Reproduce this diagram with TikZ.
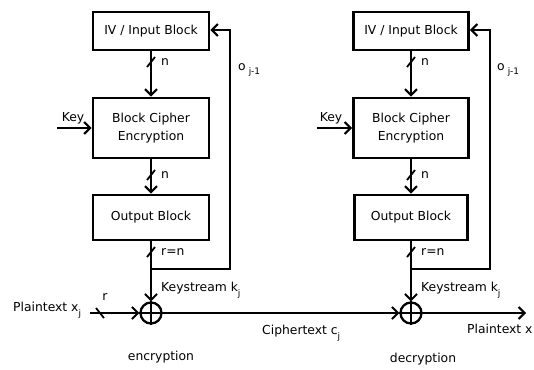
\documentclass[tikz,border=0pt]{standalone}
\usepackage{fontspec}
\setmainfont{DejaVu Sans}
\usetikzlibrary{arrows.meta}
\newcommand{\lblfont}{\fontsize{12.4}{18}\selectfont}
\newcommand{\subfont}{\fontsize{9}{9}\selectfont}
\newcommand{\lowsub}[1]{\raisebox{-4.5pt}{\subfont #1}}
\begin{document}
\begin{tikzpicture}[x=1bp,y=-1bp,
  blk/.style={draw, line width=2.9bp, minimum width=116bp, inner sep=0pt,
              align=center, font=\lblfont},
  wire/.style={line width=2bp},
  flow/.style={wire, -{Straight Barb[length=6bp,width=12bp,line width=2bp]}},
  xorop/.style={circle, draw, line width=2.3bp, minimum size=21bp, inner sep=0pt},
  lbl/.style={font=\lblfont, inner sep=0pt},
  bitw/.style={line width=1.8bp}]
\useasboundingbox (0,0) rectangle (534,369);

% ---------- encryption side ----------
\node[blk, minimum height=38bp] (iv1) at (151,31) {IV / Input Block};
\node[blk, minimum height=60bp] (bc1) at (151,128) {Block Cipher\\Encryption};
\node[blk, minimum height=45bp] (ob1) at (151,217.5) {Output Block};
\node[xorop] (x1) at (151,313) {};
\draw[line width=2.3bp] (x1.north) -- (x1.south) (x1.west) -- (x1.east);

\draw[flow] (iv1) -- (bc1);
\draw[flow] (bc1) -- (ob1);
\draw[flow] (ob1) -- (x1);
\coordinate (j1) at (151,269);
\coordinate (k1) at (57,128);
\coordinate (p1) at (90,313);
\draw[flow] (j1) -| (230,30) -- (iv1.east |- 0,30);
\draw[flow] (k1) -- (bc1.west |- k1);
\draw[flow] (p1) -- (x1);

% bus-width ticks
\draw[bitw] (147,67) -- (155,57);
\draw[bitw] (147,180) -- (155,170);
\draw[bitw] (147,257) -- (155,247);
\draw[bitw] (96,308) -- (104,318);

\node[lbl, anchor=west] at (161,62) {n};
\node[lbl, anchor=west] at (161,175) {n};
\node[lbl, anchor=west] at (161,252) {r=n};
\node[lbl] at (105,297) {r};
\node[lbl] at (73,118) {Key};
\node[lbl, anchor=west] at (238,70) {o\hspace{3pt}\lowsub{j-1}};
\node[lbl, anchor=west] at (161,290) {Keystream k\lowsub{j}};
\node[lbl, anchor=west] at (13,310) {Plaintext x\lowsub{j}};
\node[lbl] at (161,357) {encryption};

% ---------- decryption side ----------
\node[blk, minimum height=38bp, minimum width=115bp] (iv2) at (411,31) {IV / Input Block};
\node[blk, minimum height=60bp, minimum width=115bp] (bc2) at (411,128) {Block Cipher\\Encryption};
\node[blk, minimum height=45bp, minimum width=113bp] (ob2) at (411,217.5) {Output Block};
\node[xorop] (x2) at (411,313) {};
\draw[line width=2.3bp] (x2.north) -- (x2.south) (x2.west) -- (x2.east);

\draw[flow] (iv2) -- (bc2);
\draw[flow] (bc2) -- (ob2);
\draw[flow] (ob2) -- (x2);
\coordinate (j2) at (411,269);
\coordinate (k2) at (317,128);
\coordinate (out2) at (526,313);
\draw[flow] (j2) -| (490,30) -- (iv2.east |- 0,30);
\draw[flow] (k2) -- (bc2.west |- k2);
\draw[flow] (x1) -- (x2);
\draw[flow] (x2) -- (out2);

\draw[bitw] (407,67) -- (415,57);
\draw[bitw] (407,180) -- (415,170);
\draw[bitw] (407,257) -- (415,247);

\node[lbl, anchor=west] at (421,62) {n};
\node[lbl, anchor=west] at (421,175) {n};
\node[lbl, anchor=west] at (421,252) {r=n};
\node[lbl] at (331,118) {Key};
\node[lbl, anchor=west] at (497,70) {o\hspace{3pt}\lowsub{j-1}};
\node[lbl, anchor=west] at (421,290) {Keystream k\lowsub{j}};
\node[lbl, anchor=west] at (467,329) {Plaintext x};
\node[lbl] at (423,359) {decryption};

\node[lbl, anchor=west] at (262,333) {Ciphertext c\lowsub{j}};
\end{tikzpicture}
\end{document}
